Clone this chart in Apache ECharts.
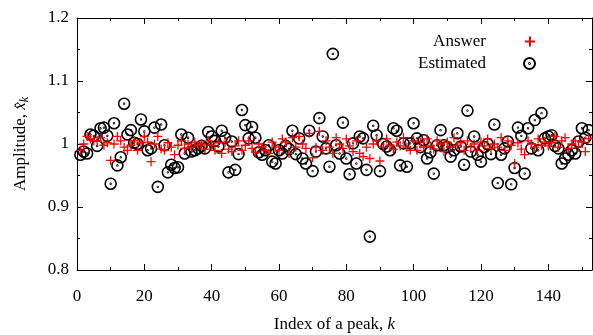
<!DOCTYPE html>
<html><head><meta charset="utf-8">
<script src="https://cdn.jsdelivr.net/npm/echarts@6/dist/echarts.min.js"></script>
<style>html,body{margin:0;padding:0;background:#fff}#c{width:593px;height:335px}</style>
</head><body><div id="c"></div>
<script>
// Estimated amplitudes for peaks k = 1..152
const estimated = [
0.983,0.988,0.985,1.015,1.013,0.997,1.025,1.026,1.013,0.937,
1.033,0.966,0.979,1.064,1.015,1.022,1.002,1.000,1.039,1.020,
0.990,0.993,1.026,0.932,1.031,0.998,0.955,0.967,0.962,0.963,
1.015,0.985,1.010,0.988,0.990,0.993,0.997,0.993,1.019,1.012,
1.005,0.996,1.021,1.010,0.955,1.004,0.959,0.984,1.054,1.030,
1.009,1.027,1.010,0.987,0.983,0.990,0.998,0.972,0.969,0.990,
0.985,0.997,0.992,1.021,0.984,1.009,0.977,0.969,1.021,0.957,
0.988,1.041,1.012,0.993,0.964,1.143,0.998,0.985,1.034,0.977,
0.952,1.001,0.969,1.012,1.009,0.959,0.853,1.029,1.014,0.957,
1.000,0.996,0.990,1.025,1.021,0.966,1.001,0.964,1.001,1.033,
1.009,0.995,1.006,0.977,0.987,0.953,0.998,1.022,0.998,0.995,
0.980,0.990,1.017,0.996,0.967,1.053,0.988,1.012,0.983,0.972,
0.995,1.000,0.984,1.031,0.938,0.983,0.993,1.004,0.936,0.962,
1.026,1.013,0.953,1.025,0.993,1.038,0.990,1.049,1.009,1.012,
1.014,0.997,0.993,0.969,0.977,0.983,0.990,0.985,1.004,1.025,
1.010,1.022
];
// Answer amplitudes for peaks k = 1..152
const answer = [
0.990,1.000,1.012,1.008,1.005,1.005,1.010,0.998,1.002,0.974,
1.000,1.012,1.005,0.995,0.990,0.998,1.005,0.990,1.002,1.012,
1.003,0.972,1.000,1.012,0.992,0.990,1.002,0.995,0.983,0.998,
1.005,0.993,1.000,0.995,1.003,0.998,1.000,0.992,1.005,0.998,
0.990,1.002,0.985,1.003,0.992,0.988,0.997,1.005,0.990,0.998,
1.005,0.993,0.987,1.000,0.995,0.990,0.985,1.003,0.995,0.990,
1.008,1.003,0.985,1.010,0.995,1.012,1.000,0.993,1.017,0.978,
0.995,1.020,0.990,1.005,0.995,0.985,1.010,1.000,0.993,1.008,
0.997,0.988,1.005,0.985,0.980,0.995,0.977,1.000,1.005,0.973,
0.995,1.008,0.998,0.992,1.003,0.997,1.010,0.995,0.990,1.005,
0.990,1.003,0.995,1.008,0.997,0.992,1.005,1.000,0.988,1.003,
0.995,1.010,0.998,1.002,0.990,1.005,0.995,1.000,0.990,1.003,
0.997,1.008,0.993,1.000,0.995,1.010,0.990,1.005,0.998,0.969,
1.002,0.992,0.983,1.005,1.000,0.995,1.008,0.998,1.003,0.997,
1.002,1.012,0.995,1.005,1.010,0.993,1.000,1.005,0.995,1.003,
0.988,1.008
];
const xTicks = [0, 20, 40, 60, 80, 100, 120, 140];
const xMinorTicks = [10, 30, 50, 70, 90, 110, 130, 150];
const yTicks = [0.8, 0.9, 1.0, 1.1, 1.2];

const FONT = '"Liberation Serif", "DejaVu Serif", serif';
const toPairs = arr => arr.map((v, i) => [i + 1, v]);

const plusPath = 'path://M5,0 L5,10 M0,5 L10,5';
const circDot = 'path://M10,0 A10,10 0 1,1 10,20 A10,10 0 1,1 10,0 Z M10,9.3 A0.7,0.7 0 1,1 10,10.7 A0.7,0.7 0 1,1 10,9.3 Z';

const axisLine = {show: true, onZero: false, lineStyle: {color: '#000', width: 1}};
const tickStyle = {color: '#000', width: 1};

function xAx(pos, labels) {
  return {
    type: 'value', min: 0, max: 153, position: pos,
    axisLine: axisLine,
    axisTick: {show: true, inside: true, length: 6, lineStyle: tickStyle, customValues: xTicks},
    minorTick: {show: false},
    splitLine: {show: false},
    axisLabel: labels ? {show: true, fontFamily: FONT, fontSize: 17, color: '#000', margin: 18,
      customValues: xTicks} : {show: false}
  };
}
function yAx(pos, labels) {
  return {
    type: 'value', min: 0.8, max: 1.2, interval: 0.1, position: pos,
    axisLine: axisLine,
    axisTick: {show: true, inside: true, length: 6, lineStyle: tickStyle},
    minorTick: {show: true, splitNumber: 2, length: 3, lineStyle: tickStyle},
    splitLine: {show: false},
    axisLabel: labels ? {show: true, fontFamily: FONT, fontSize: 17, color: '#000', margin: 8,
      formatter: v => String(parseFloat(v.toFixed(2)))} : {show: false}
  };
}

const xBottom = Object.assign(xAx('bottom', true), {
  name: 'Index of a peak, {it|k}', nameLocation: 'middle', nameGap: 46,
  nameTextStyle: {fontFamily: FONT, fontSize: 17, color: '#000',
    rich: {it: {fontFamily: FONT, fontSize: 17, fontStyle: 'italic', color: '#000'}}}
});
// minor ticks on x (every 10) as separate tick-only axes
const xMinorB = {
  type: 'value', min: 0, max: 153, position: 'bottom',
  axisLine: {show: false}, splitLine: {show: false}, axisLabel: {show: false},
  axisTick: {show: true, inside: true, length: 3, lineStyle: tickStyle, customValues: xMinorTicks}
};
const xMinorT = Object.assign({}, xMinorB, {position: 'top'});

const yLeft = Object.assign(yAx('left', true), {
  name: 'Amplitude, {it|x\u0302}{sub|k}', nameLocation: 'middle', nameGap: 46, nameRotate: 90,
  nameTextStyle: {fontFamily: FONT, fontSize: 17, color: '#000',
    rich: {
      it: {fontFamily: FONT, fontSize: 17, fontStyle: 'italic', color: '#000'},
      sub: {fontFamily: FONT, fontSize: 12, fontStyle: 'italic', color: '#000', padding: [8, 0, 0, 0]}
    }}
});

const chart = echarts.init(document.getElementById('c'), null, {renderer: 'canvas'});
chart.setOption({
  animation: false,
  backgroundColor: '#fff',
  grid: {left: 77, right: 1, top: 18, bottom: 65, containLabel: false, outerBoundsMode: 'none'},
  legend: [
    {data: ['Answer'], right: 52, top: 28, align: 'right', itemWidth: 10, itemHeight: 10,
     textStyle: {fontFamily: FONT, fontSize: 17, color: '#000', padding: [0, 34, 0, 0]}},
    {data: ['Estimated'], right: 52, top: 50, align: 'right', itemWidth: 11, itemHeight: 11,
     textStyle: {fontFamily: FONT, fontSize: 17, color: '#000', padding: [0, 33, 0, 0]}}
  ],
  xAxis: [xBottom, xAx('top', false), xMinorB, xMinorT],
  yAxis: [yLeft, yAx('right', false)],
  series: [
    {name: 'Answer', type: 'scatter', symbol: plusPath, symbolSize: 9,
     data: toPairs(answer), z: 3,
     itemStyle: {color: 'rgba(0,0,0,0)', borderColor: '#ff0000', borderWidth: 1.3, opacity: 1}},
    {name: 'Estimated', type: 'scatter', symbol: circDot, symbolSize: 11,
     data: toPairs(estimated), z: 2,
     itemStyle: {color: 'rgba(0,0,0,0)', borderColor: '#000', borderWidth: 1.6, opacity: 1}}
  ]
});
</script>
</body></html>
